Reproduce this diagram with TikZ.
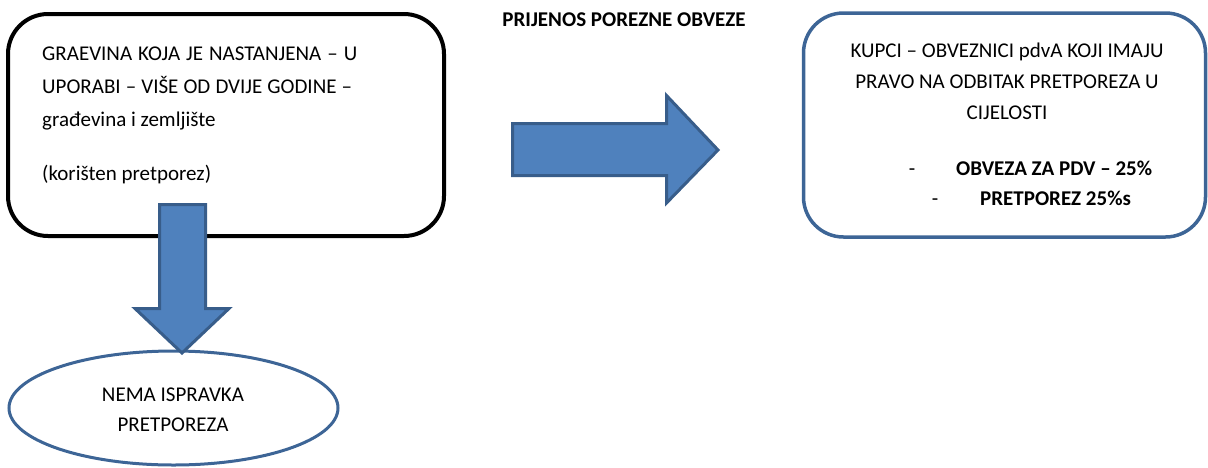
\documentclass[tikz,border=0pt]{standalone}
\usepackage{fontspec}
\setmainfont{Carlito}
\usetikzlibrary{shapes.geometric}
\definecolor{arrowfill}{HTML}{4F81BD}
\definecolor{arrowline}{HTML}{385D8A}
\definecolor{boxline}{HTML}{3D6596}
\tikzset{
  txt/.style={inner sep=0pt, font=\fontsize{21}{33}\selectfont},
  btxt/.style={inner sep=0pt, font=\fontsize{21}{33}\selectfont\bfseries},
  blockarrow/.style={fill=arrowfill, draw=arrowline, line width=3pt, line join=miter},
}
\begin{document}
\begin{tikzpicture}[x=1pt,y=-1pt]
\useasboundingbox (0,0) rectangle (1208,467);
% boxes
\node[draw=black, line width=4pt, rounded corners=40pt, minimum width=436pt, minimum height=222pt, inner sep=0pt] (lbox) at (226,125) {};
\node[draw=boxline, line width=3.5pt, rounded corners=40pt, minimum width=402pt, minimum height=224pt, inner sep=0pt] (rbox) at (1004.5,125) {};
\node[ellipse, draw=boxline, line width=3pt, minimum width=329pt, minimum height=114pt, inner sep=0pt] (nema) at (173.5,408) {};
% left box text
\node[txt, anchor=base west] (l1) at (42,60) {\makebox[315pt][s]{GRAEVINA KOJA JE NASTANJENA – U}};
\node[txt, anchor=base west] (l2) at (42,93) {\makebox[310pt][s]{UPORABI – VIŠE OD DVIJE GODINE –}};
\node[txt, anchor=base west] (l3) at (42,126) {građevina i zemljište};
\node[txt, anchor=base west] (l4) at (42,180) {(korišten pretporez)};
% title
\node[btxt, anchor=base] (title) at (624,26) {PRIJENOS POREZNE OBVEZE};
% right box text
\node[txt, anchor=base] (r1) at (1007,57) {KUPCI – OBVEZNICI pdvA KOJI IMAJU};
\node[txt, anchor=base] (r2) at (1007,88) {PRAVO NA ODBITAK PRETPOREZA U};
\node[txt, anchor=base] (r3) at (1007,119) {CIJELOSTI};
\node[txt, anchor=base] (d1) at (912,175) {-};
\node[btxt, anchor=base west] (r4) at (956,175) {OBVEZA ZA PDV – 25\%};
\node[txt, anchor=base] (d2) at (935,205) {-};
\node[btxt, anchor=base west] (r5) at (980,205) {PRETPOREZ 25\%s};
% ellipse text
\node[txt, anchor=base] (e1) at (173,401) {NEMA ISPRAVKA};
\node[txt, anchor=base] (e2) at (173,431) {PRETPOREZA};
% block arrows
\draw[blockarrow] (512.5,123.5) -- (666.5,123.5) -- (666.5,95.5) -- (718,150) -- (666.5,203) -- (666.5,175.5) -- (512.5,175.5) -- cycle;
\draw[blockarrow] (159.5,204.5) -- (205.5,204.5) -- (205.5,308.5) -- (229,308.5) -- (182,353) -- (135,308.5) -- (159.5,308.5) -- cycle;
\end{tikzpicture}
\end{document}
